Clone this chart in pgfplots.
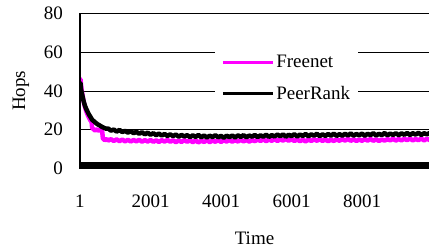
\documentclass[border=0pt]{standalone}
\usepackage{pgfplots}
\pgfplotsset{compat=1.18}
\usepackage{fontspec}
\setmainfont{Liberation Serif}
\begin{document}
\begin{tikzpicture}
\begin{axis}[
  at={(0,0)}, anchor=south west,
  scale only axis, width=349pt, height=155.2pt,
  xmin=1, xmax=9900, ymin=0, ymax=80,
  clip mode=individual,
  axis line style={draw=none},
  major tick length=0pt,
  xtick={1,2001,4001,6001,8001},
  xticklabels={1,2001,4001,6001,8001},
  ytick={0,20,40,60,80},
  ymajorgrids, grid style={black, line width=0.8pt},
  /pgf/number format/assume math mode=true,
  tick label style={font=\rmfamily\fontsize{19}{23}\selectfont},
  xticklabel style={inner sep=0pt, anchor=north, yshift=-26pt},
  yticklabel style={inner sep=0pt, anchor=east, xshift=-17pt},
  xlabel={Time}, ylabel={Hops},
  every axis x label/.style={at={(axis description cs:0.5,-0.448)}, anchor=center, font=\rmfamily\fontsize{19}{23}\selectfont},
  every axis y label/.style={at={(axis description cs:-0.169,0.5)}, anchor=center, rotate=90, font=\rmfamily\fontsize{19}{23}\selectfont},
  legend style={at={(0.387,0.781)}, anchor=north west, draw=none, fill=white,
    inner sep=6pt, row sep=12.5pt, font=\rmfamily\fontsize{19}{23}\selectfont,
    /tikz/every odd column/.append style={column sep=0pt}},
  legend cell align=left,
  legend image code/.code={\draw[#1, line width=3pt] (0pt,0pt) -- (50pt,0pt);},
]
\addplot[color={rgb,255:red,255;green,0;blue,255}, line width=4.5pt, line join=round] coordinates {
(1,45.5)(15,46)(30,43)(50,40)(70,38)(100,35)(130,32.5)(170,30)(210,28)(250,26.5)(290,25)(330,24)(345,21)(380,20.3)(430,19.6)(480,20.2)(530,19.5)(580,19.9)(630,19.2)(650,15.5)(700,14.6)(760,15.2)
(800,14.4)(880,15.1)(960,14.2)(1040,15.0)(1120,14.1)(1200,14.9)(1280,14.0)(1360,14.8)(1440,13.9)(1520,14.7)(1600,14.0)(1680,14.8)(1760,13.8)(1840,14.6)(1920,13.9)(2000,14.7)
(2080,13.8)(2160,14.5)(2240,13.7)(2320,14.6)(2400,13.9)(2480,14.7)(2560,13.8)(2640,14.5)(2720,13.6)(2800,14.4)(2880,13.7)(2960,14.6)(3040,13.8)(3120,14.5)(3200,13.6)(3280,14.4)
(3360,13.5)(3440,14.3)(3520,13.7)(3600,14.5)(3680,13.6)(3760,14.4)(3840,13.8)(3920,14.6)(4000,13.7)(4080,14.5)(4160,13.9)(4240,14.7)(4320,13.8)(4400,14.6)(4480,13.9)(4560,14.8)
(4640,14.0)(4720,14.7)(4800,13.9)(4880,14.6)(4960,14.1)(5040,14.9)(5120,14.2)(5200,15.0)(5280,14.1)(5360,14.9)(5440,14.3)(5520,15.1)(5600,14.2)(5680,15.0)(5760,14.4)(5840,15.2)
(5920,14.3)(6000,15.1)(6080,14.2)(6160,14.9)(6240,14.1)(6320,14.8)(6400,14.0)(6480,14.9)(6560,14.2)(6640,15.0)(6720,14.3)(6800,15.1)(6880,14.2)(6960,14.9)(7040,14.1)(7120,14.8)
(7200,14.2)(7280,15.0)(7360,14.3)(7440,15.1)(7520,14.4)(7600,15.2)(7680,14.3)(7760,15.0)(7840,14.2)(7920,14.9)(8000,14.3)(8080,15.1)(8160,14.4)(8240,15.2)(8320,14.3)(8400,15.0)
(8480,14.2)(8560,14.9)(8640,14.4)(8720,15.1)(8800,14.5)(8880,15.3)(8960,14.4)(9040,15.2)(9120,14.5)(9200,15.3)(9280,14.6)(9360,15.4)(9440,14.5)(9520,15.2)(9600,14.6)(9680,15.4)
(9760,14.5)(9840,15.3)(9920,14.7)
};
\addlegendentry{Freenet}
\addplot[black, line width=4.5pt, line join=round] coordinates {
(1,43.5)(15,44)(30,41)(50,39)(70,37.5)(100,35)(130,33)(170,31)(210,29.5)(250,28)(300,26.5)(350,25)(400,24.3)(450,23.5)(500,22.8)(560,22.2)(620,21.5)(680,21)(740,20.5)
(800,20.6)(880,19.5)(960,20.1)(1040,19.0)(1120,19.9)(1200,18.8)(1280,19.4)(1360,18.5)(1440,19.3)(1520,18.2)(1600,18.9)(1680,17.9)(1760,18.7)(1840,17.6)(1920,18.5)(2000,17.4)
(2080,18.2)(2160,17.2)(2240,18.0)(2320,17.0)(2400,17.8)(2480,16.8)(2560,17.6)(2640,16.7)(2720,17.5)(2800,16.4)(2880,17.3)(2960,16.5)(3040,17.2)(3120,16.2)(3200,17.1)(3280,16.3)
(3360,17.3)(3440,16.1)(3520,17.0)(3600,16.0)(3680,16.9)(3760,16.2)(3840,17.2)(3920,16.1)(4000,16.8)(4080,15.9)(4160,16.9)(4240,16.2)(4320,17.0)(4400,16.0)(4480,17.1)(4560,16.3)
(4640,17.2)(4720,16.1)(4800,17.0)(4880,16.4)(4960,17.3)(5040,16.2)(5120,17.1)(5200,16.4)(5280,17.4)(5360,16.3)(5440,17.2)(5520,16.5)(5600,17.5)(5680,16.6)(5760,17.6)(5840,16.4)
(5920,17.4)(6000,16.7)(6080,17.7)(6160,16.5)(6240,17.5)(6320,16.8)(6400,17.8)(6480,16.6)(6560,17.6)(6640,16.9)(6720,17.9)(6800,16.7)(6880,17.6)(6960,16.8)(7040,17.8)(7120,16.9)
(7200,18.0)(7280,16.8)(7360,17.7)(7440,16.9)(7520,17.9)(7600,17.0)(7680,18.1)(7760,16.9)(7840,17.8)(7920,17.1)(8000,18.0)(8080,16.9)(8160,17.9)(8240,17.2)(8320,18.2)(8400,17.0)
(8480,17.9)(8560,17.2)(8640,18.3)(8720,17.1)(8800,18.0)(8880,17.3)(8960,18.2)(9040,17.2)(9120,18.1)(9200,17.4)(9280,18.3)(9360,17.3)(9440,18.2)(9520,17.5)(9600,18.4)(9680,17.3)
(9760,18.2)(9840,17.6)(9920,18.3)
};
\addlegendentry{PeerRank}
\draw[line width=1.5pt] (rel axis cs:0,0) -- (rel axis cs:0,1);
\draw[line width=7pt, yshift=3pt] (rel axis cs:0,0) -- (rel axis cs:1,0);
\end{axis}
\pgfresetboundingbox
\path[use as bounding box] (-80pt,-80.5pt) rectangle (349pt,168.5pt);
\end{tikzpicture}
\end{document}
